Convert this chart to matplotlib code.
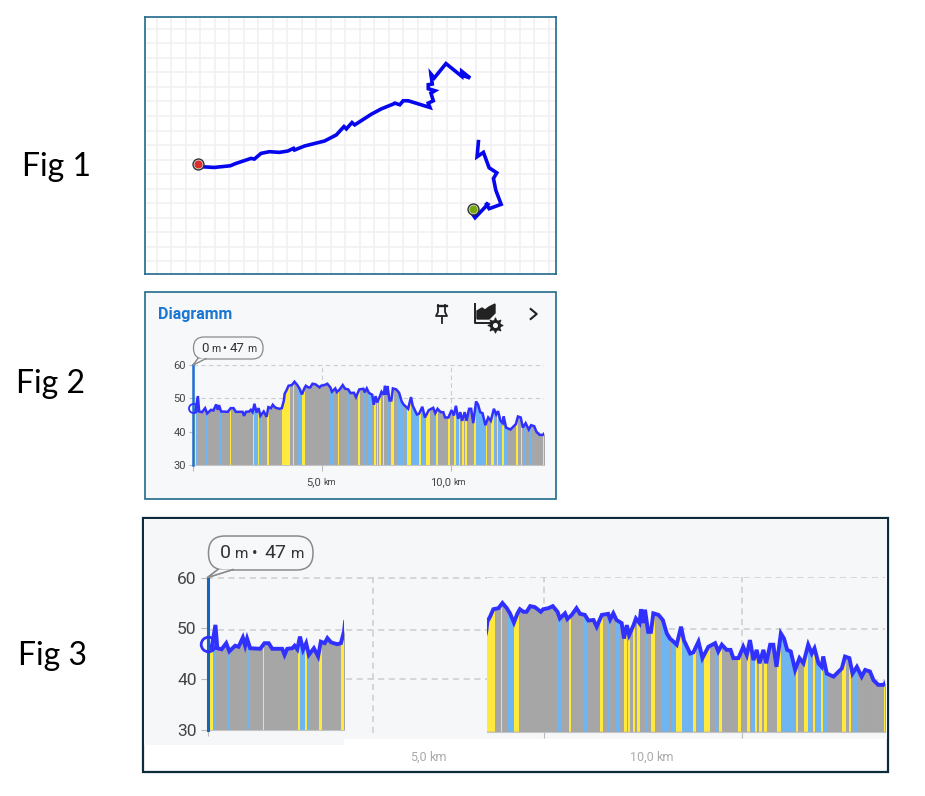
import matplotlib
matplotlib.use("Agg")
import numpy as np
import matplotlib.pyplot as plt
from matplotlib.patches import FancyBboxPatch, Polygon, Rectangle

plt.rcParams['font.family'] = ['Roboto', 'DejaVu Sans']

W, H = 925, 796

# route of Fig 1, in map units
route_a_x = [160, 175, 210, 258, 275, 320, 330, 350, 375, 405, 430, 447, 450, 480, 540, 575, 598, 605, 622, 630,
             680, 710, 745, 750, 765, 775, 790, 855, 850, 865, 858, 870, 850, 850, 862, 858, 868, 903, 950, 950, 975, 960]
route_a_y = [447, 455, 457, 452, 445, 430, 432, 415, 410, 412, 408, 400, 405, 393, 378, 360, 335, 342, 323, 330,
             298, 282, 268, 265, 270, 258, 258, 278, 265, 258, 235, 228, 222, 210, 208, 178, 190, 147, 185, 170, 190, 185]
route_b_x = [1000, 996, 1015, 1032, 1055, 1045, 1052, 1068, 1032, 1022, 1028, 990, 983]
route_b_y = [380, 425, 412, 458, 473, 490, 525, 567, 580, 563, 567, 607, 597]
route_end = (160, 447)
route_start = (985, 581)

# elevation profile, km and m
dist_km = [0, 0.10, 0.20, 0.25, 0.36, 0.48, 0.56, 0.71, 0.80, 0.91, 0.97, 1.02, 1.10, 1.36, 1.47, 1.58, 1.67, 1.93,
           1.99, 2.06, 2.19, 2.25, 2.32, 2.39, 2.47, 2.55, 2.62, 2.75, 2.86, 2.93, 3.03, 3.10, 3.19, 3.26, 3.36, 3.45, 3.53,
           3.56, 3.63, 3.71, 3.84, 3.94, 4.05, 4.13, 4.23, 4.32, 4.38, 4.47, 4.55, 4.64, 4.76, 4.91, 4.97, 5.10, 5.21,
           5.33, 5.39, 5.52, 5.58, 5.69, 5.81, 5.90, 6.02, 6.11, 6.24, 6.32, 6.45, 6.61, 6.66, 6.74, 6.82, 6.95, 7.01,
           7.08, 7.14, 7.25, 7.31, 7.40, 7.44, 7.50, 7.54, 7.62, 7.69, 7.75, 7.88, 7.99, 8.09, 8.17, 8.26, 8.34, 8.45,
           8.52, 8.68, 8.76, 8.89, 8.99, 9.14, 9.31, 9.39, 9.48, 9.60, 9.70, 9.77, 9.90, 10.02, 10.11, 10.19, 10.28,
           10.36, 10.43, 10.53, 10.60, 10.70, 10.78, 10.86, 10.97, 11.05, 11.13, 11.22, 11.33, 11.44, 11.54, 11.66,
           11.75, 11.82, 11.92, 12.00, 12.04, 12.13, 12.30, 12.51, 12.59, 12.70, 12.78, 12.89, 13.01, 13.10, 13.22,
           13.31, 13.43, 13.56, 13.63]
elev_m = [46.8, 46.1, 50.7, 46.1, 45.9, 47.1, 45.5, 46.6, 46.4, 48.2, 46.6, 48.0, 46.1, 46.0, 47.1, 47.1, 46.0, 46.0,
          44.8, 46.0, 46.1, 46.6, 45.9, 48.4, 45.8, 47.1, 44.8, 46.1, 44.5, 47.4, 47.1, 48.1, 47.3, 47.1, 46.9, 47.1, 49.4,
          51.4, 52.4, 53.8, 54.0, 55.0, 54.0, 53.0, 51.2, 53.0, 53.8, 53.3, 53.3, 54.4, 54.2, 53.3, 53.8, 54.0, 54.4,
          53.3, 52.0, 53.0, 51.9, 52.7, 54.0, 52.9, 52.7, 51.6, 51.7, 50.4, 52.7, 52.9, 51.8, 53.0, 51.7, 51.1, 48.1,
          50.7, 48.8, 50.7, 52.0, 51.1, 53.8, 51.1, 53.7, 49.4, 49.4, 53.0, 52.7, 51.7, 49.1, 48.1, 47.5, 46.9, 50.4,
          47.8, 45.2, 45.4, 47.5, 44.3, 46.5, 47.2, 45.6, 46.9, 45.9, 45.9, 44.3, 44.3, 46.5, 44.9, 47.8, 43.9,
          45.9, 43.3, 45.9, 43.3, 46.9, 46.9, 42.6, 49.1, 48.1, 45.9, 45.6, 42.0, 44.3, 43.3, 46.9,
          45.2, 46.2, 43.3, 42.6, 44.6, 41.3, 40.7, 42.3, 44.6, 44.3, 41.3, 42.6, 40.7, 42.0, 41.7,
          40.0, 39.1, 39.1, 39.7]

# gradient bands along the track
yellow_bands = [(0.02, 0.13), (1.43, 1.47), (2.33, 2.39), (2.53, 2.57), (2.87, 2.95), (3.45, 3.75), (3.90, 3.94),
                (4.24, 4.36), (5.63, 5.66), (6.40, 6.47), (7.02, 7.08), (7.12, 7.16), (7.23, 7.29), (7.35, 7.42),
                (7.68, 7.80), (8.31, 8.47), (8.76, 8.83), (9.04, 9.18), (9.41, 9.48), (9.89, 9.97), (10.11, 10.19),
                (10.32, 10.36), (10.43, 10.49), (10.55, 10.63), (10.88, 10.97), (11.35, 11.41), (11.55, 11.66),
                (11.77, 11.82), (11.99, 12.04), (12.51, 12.61), (12.70, 12.75), (13.58, 13.63)]
blue_bands = [(0.13, 0.22), (0.51, 0.56), (1.03, 1.09), (2.39, 2.51), (2.60, 2.65), (4.09, 4.21), (5.31, 5.43),
              (5.98, 6.07), (6.61, 6.66), (6.80, 6.91), (7.56, 7.61), (7.96, 8.17), (8.22, 8.31), (8.47, 8.76),
              (8.86, 9.03), (9.31, 9.39), (10.21, 10.32), (10.97, 11.34), (11.66, 11.75), (11.83, 11.98),
              (12.04, 12.15), (12.78, 12.90), (13.06, 13.08), (13.39, 13.43)]

y_ticks = [30, 40, 50, 60]
x_ticks = [5, 10]
cursor_km = 0
cursor_m = 47

GREY = '#a6a6a6'
YELLOW = '#ffe93f'
SKY = '#6fb5f2'
LINE = '#3030ff'
GRID = '#cccccc'

fig = plt.figure(figsize=(W / 100, H / 100), dpi=100, facecolor='white')


def px_axes(x0, y0, x1, y1, **kw):
    ax = fig.add_axes([x0 / W, 1 - y1 / H, (x1 - x0) / W, (y1 - y0) / H], **kw)
    ax.patch.set_alpha(0)
    return ax


def draw_profile(ax, xlim, lw, grid_lw):
    ax.set_xlim(*xlim)
    ax.set_ylim(30, 60)
    poly = ax.fill_between(dist_km, 30, elev_m, color=GREY, lw=0, zorder=2)
    for bands, col in ((yellow_bands, YELLOW), (blue_bands, SKY)):
        for a, b in bands:
            span = ax.axvspan(a, b, color=col, lw=0, zorder=3)
            span.set_clip_path(poly.get_paths()[0], poly.get_transform())
    ax.plot(dist_km, elev_m, color=LINE, lw=lw, zorder=4, solid_joinstyle='miter')
    for s in ('top', 'right', 'left'):
        ax.spines[s].set_visible(False)
    ax.spines['bottom'].set_color('#c4c4c4')
    ax.grid(True, color=GRID, ls=(0, (4, 3)), lw=grid_lw, zorder=1)
    ax.set_axisbelow(True)
    ax.tick_params(axis='x', length=4, color='#bbbbbb', labelbottom=False)


# backgrounds and frames, pixel coordinates
bg = px_axes(0, 0, W, H, zorder=0)
bg.set_xlim(0, W)
bg.set_ylim(H, 0)
bg.axis('off')
bg.add_patch(Rectangle((145, 292), 411, 207, fc='#f7f8fa', ec='#1f6a8a', lw=1.2))
bg.add_patch(Rectangle((143, 518), 745, 254, fc='white', ec='#0d2b3a', lw=1.6))
bg.add_patch(Rectangle((144, 519), 200, 226, fc='#f6f7f9', lw=0))
bg.add_patch(Rectangle((344, 519), 543, 220, fc='#f6f7f9', lw=0))
for y in (577.7, 629.5, 679):
    bg.plot([207, 487], [y, y], color=GRID, lw=1.1, ls=(0, (4, 3)))
bg.plot([373, 373], [577, 734], color=GRID, lw=1.1, ls=(0, (4, 3)))

# Fig 1
m = px_axes(145, 17, 556, 274, zorder=1)
m.patch.set_alpha(1)
m.set_xlim(3, 1232)
m.set_ylim(775, 8)
m.set_xticks(np.arange(38, 1232, 43.4))
m.set_yticks(np.arange(43, 775, 43.4))
m.grid(True, color='#f1f1f3', lw=1.2)
m.set_axisbelow(True)
m.tick_params(length=0, labelbottom=False, labelleft=False)
for s in m.spines.values():
    s.set_color('#1f6a8a')
    s.set_linewidth(1.2)
m.plot(route_a_x, route_a_y, color='#0505ee', lw=2.6, solid_joinstyle='miter')
m.plot(route_b_x, route_b_y, color='#0505ee', lw=2.6, solid_joinstyle='miter')
for (px, py), col in ((route_end, '#e02b2b'), (route_start, '#74a80c')):
    m.scatter([px], [py], s=62, c='#d8d8d8', edgecolors='#333333', lw=1.0, zorder=5)
    m.scatter([px], [py], s=22, c=col, zorder=6)

# Fig 2
a2 = px_axes(192.7, 365, 544, 465.3, zorder=2)
draw_profile(a2, (0, 13.6), 1.8, 0.8)
a2.set_xticks([0] + x_ticks)
a2.set_yticks(y_ticks)
a2.tick_params(axis='y', length=3, color='#bbbbbb', labelsize=8, labelcolor='#444444', pad=2)
a2.plot([cursor_km] * 2, [30, 60], color='#1f6fd0', lw=1.8, zorder=5, clip_on=False)
a2.plot([cursor_km], [cursor_m], 'o', ms=6.5, mfc='none', mec=LINE, mew=1.3, zorder=6, clip_on=False)

# Fig 3, pasted in two pieces
a3l = px_axes(207.7, 577.7, 344, 730, zorder=2)
draw_profile(a3l, (0, 3.53), 2.8, 1.1)
a3l.grid(False, axis='y')
a3l.set_xticks([0])
a3l.set_yticks(y_ticks)
a3l.tick_params(axis='y', length=5, color='#bbbbbb', labelsize=12.5, labelcolor='#444444', pad=3)
a3l.plot([cursor_km] * 2, [30, 60], color='#1565c0', lw=2.2, zorder=5, clip_on=False)
a3l.plot([cursor_km], [cursor_m], 'o', ms=10.5, mfc='none', mec=LINE, mew=2, zorder=6, clip_on=False)

a3r = px_axes(487, 577.3, 885, 731.7, zorder=2)
draw_profile(a3r, (3.55, 13.6), 2.8, 1.1)
a3r.set_xticks(x_ticks)
a3r.set_yticks([50, 60, 40])
a3r.tick_params(axis='y', length=0, labelleft=False)

# labels and icons on top
fg = px_axes(0, 0, W, H, zorder=5)
fg.set_xlim(0, W)
fg.set_ylim(H, 0)
fg.axis('off')

for txt, x, y in (('Fig 1', 56, 167), ('Fig 2', 50, 384), ('Fig 3', 53, 656)):
    fg.text(x, y, txt, fontsize=23, family=['Lato', 'DejaVu Sans'], ha='center', va='center', color='black')

fg.text(158, 314, 'Diagramm', fontsize=11.5, fontweight='bold', color='#1976d2', va='center')


def km_label(x, y, num, size, col, unit_size):
    fg.text(x, y, num, fontsize=size, color=col, ha='right', va='baseline')
    fg.text(x + 2.5, y, 'km', fontsize=unit_size, color=col, ha='left', va='baseline')


km_label(321, 485, '5,0', 8, '#444444', 6.5)
km_label(451, 485, '10,0', 8, '#444444', 6.5)
km_label(427, 761, '5,0', 9, '#aaaaaa', 9)
km_label(654, 761, '10,0', 9, '#aaaaaa', 9)


def bubble(x0, y0, x1, y1, tip, base_a, base_b, lw):
    fg.add_patch(Polygon([tip, base_a, base_b], fc='#f7f8fa', ec='#8a8a8a', lw=lw, zorder=3))
    r = (y1 - y0) / 2 - 0.5
    fg.add_patch(FancyBboxPatch((x0 + r, y0 + r), x1 - x0 - 2 * r, y1 - y0 - 2 * r,
                                boxstyle=f'round,pad={r}', fc='#f7f8fa', ec='#8a8a8a', lw=lw, zorder=4))
    fg.add_patch(Polygon([tip, base_a, base_b], fc='#f7f8fa', ec='none', zorder=5))
    fg.plot([base_a[0], tip[0], base_b[0]], [base_a[1], tip[1], base_b[1]], color='#8a8a8a', lw=lw, zorder=6)


bubble(193.5, 337, 263, 359, (193, 365), (198, 358.5), (206, 358.5), 0.9)
bubble(208.5, 536, 313, 570, (207.5, 577.5), (218, 569.5), (233, 569.5), 1.1)

for x, txt, size in ((201, '0', 9.5), (211, 'm', 7.5), (222.5, '•', 8.5), (230, '47', 9.5), (247, 'm', 7.5)):
    fg.text(x, 352, txt, fontsize=size, color='#333333', va='baseline', zorder=7)
for x, txt, size in ((219.5, '0', 14), (235, 'm', 11), (252, '•', 12), (264, '47', 14), (290.5, 'm', 11)):
    fg.text(x, 558.5, txt, fontsize=size, color='#333333', va='baseline', zorder=7)

# pin
fg.fill([436.5, 446.5, 446.5, 436.5], [304.5, 304.5, 306, 306], color='#222222')
fg.plot([438, 438, 436, 447, 445, 445], [305, 312, 316, 316, 312, 305], color='#222222', lw=1.3)
fg.plot([441.5, 441.5], [316, 323], color='#222222', lw=1.3)
# chart settings
fg.plot([474.5, 474.5, 492], [304, 322.5, 322.5], color='#222222', lw=1.4)
fg.fill([477, 477, 482, 485, 489, 495, 495, 489, 477], [319, 311, 308, 310, 307, 304, 313, 319, 319], color='#222222')
fg.scatter([495], [325], s=50, c='#222222', zorder=6)
fg.scatter([495], [325], marker=(8, 1, 0), s=110, c='#222222', zorder=6)
fg.scatter([495], [325], s=7, c='#f7f8fa', zorder=7)
# chevron
fg.plot([530.7, 536.7, 530.7], [309, 314, 319], color='#222222', lw=1.5)

fig.savefig('out.png', dpi=100)
